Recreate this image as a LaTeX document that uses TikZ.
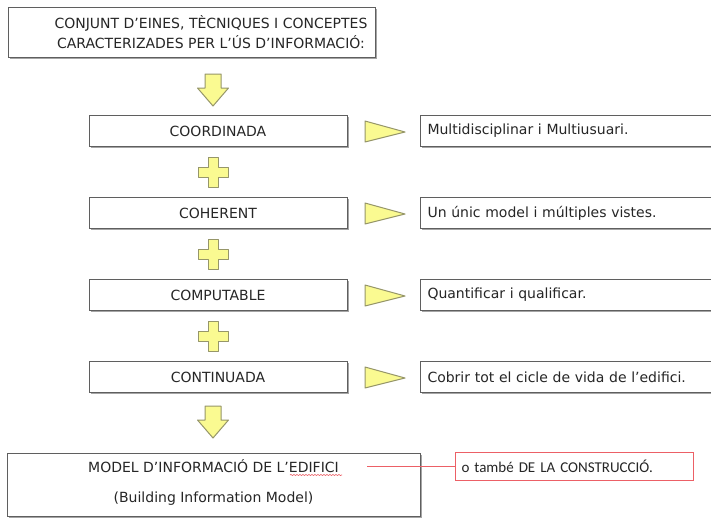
\documentclass[tikz,border=0pt]{standalone}
\usepackage{fontspec}
\setmainfont{DejaVu Sans}
\newfontfamily\notefont{Carlito}
\usetikzlibrary{shadows,decorations.pathmorphing}

\definecolor{boxline}{RGB}{95,95,95}
\definecolor{boxshade}{RGB}{165,165,165}
\definecolor{shapefill}{RGB}{250,250,145}
\definecolor{shapeline}{RGB}{150,150,105}
\definecolor{notered}{RGB}{236,96,102}

\tikzset{
  box/.style={draw=boxline, line width=1pt, fill=white, rectangle, inner sep=0pt,
    drop shadow={shadow xshift=1.5pt, shadow yshift=-1.5pt, fill=boxshade, opacity=1}},
  stagebox/.style={box, minimum width=258pt, minimum height=31.5pt},
  infobox/.style={box, anchor=west, minimum height=31.5pt, text width=286pt, inner xsep=7pt, align=left},
  yellowshape/.style={fill=shapefill, draw=shapeline, line width=1pt, line join=round},
  txt/.style={font=\fontsize{14}{20}\selectfont, text=black!85}
}

\begin{document}
\begin{tikzpicture}[x=1pt, y=-1pt]
        \useasboundingbox (0,0) rectangle (711,517);
        \fill[white] (0,0) rectangle (711,517);
        \clip (0,0) rectangle (711,517);
        % top box
        \node[box, minimum width=367pt, minimum height=50pt] (top) at (191.5,32) {};
        \node[txt, align=center] (toptext) at (211,32) {CONJUNT D'EINES, TÈCNIQUES I CONCEPTES\\CARACTERIZADES PER L'ÚS D'INFORMACIÓ:};
        % four stages
        \node[stagebox, txt] (coord) at (218,131) {COORDINADA};
        \node[stagebox, txt] (coher) at (218,213) {COHERENT};
        \node[stagebox, txt] (comput) at (218,295) {COMPUTABLE};
        \node[stagebox, txt] (contin) at (218,377) {CONTINUADA};
        \node[infobox, txt] (multi) at (420,131) {Multidisciplinar i Multiusuari.};
        \node[infobox, txt] (vistes) at (420,213) {Un únic model i múltiples vistes.};
        \node[infobox, txt] (quant) at (420,295) {Quantificar i qualificar.};
        \node[infobox, txt] (cicle) at (420,377) {Cobrir tot el cicle de vida de l'edifici.};
        % bottom box
        \node[box, minimum width=413pt, minimum height=63pt] (bim) at (213.5,484.5) {};
        \node[txt] (bimname) at (213.5,466) {MODEL D'INFORMACIÓ DE L'EDIFICI};
        \node[txt] (bimsub) at (213.5,499) {(Building Information Model)};
        \draw[notered, line width=0.6pt, decorate, decoration={snake, amplitude=0.6pt, segment length=3pt}] (290,475) -- (342,475);
        \node[draw=notered, line width=1pt, fill=white, minimum width=238pt, minimum height=28pt, inner sep=0pt, anchor=west, text width=226pt, align=left, font=\notefont\fontsize{15}{18}\selectfont, text=black!85] (note) at (455,466) {o també DE LA CONSTRUCCIÓ.};
        \coordinate (notestart) at (367,466);
        \draw[notered, line width=1pt] (notestart) -- (note.west);
        % yellow arrows
        \foreach \cx/\cy in {213/74, 213/406}
            \draw[yellowshape] (\cx-8,\cy) -- (\cx+8,\cy) -- (\cx+8,\cy+14) -- (\cx+15.5,\cy+14) -- (\cx,\cy+32) -- (\cx-15.5,\cy+14) -- (\cx-8,\cy+14) -- cycle;
        \foreach \cy in {172, 254, 336}
            \draw[yellowshape] (208,\cy-15) -- (218,\cy-15) -- (218,\cy-5) -- (228,\cy-5) -- (228,\cy+5) -- (218,\cy+5) -- (218,\cy+15) -- (208,\cy+15) -- (208,\cy+5) -- (198,\cy+5) -- (198,\cy-5) -- (208,\cy-5) -- cycle;
        \foreach \cy in {131, 213, 295, 377}
            \draw[yellowshape] (365,\cy-10) -- (405,\cy+1) -- (365,\cy+11) -- cycle;
    \end{tikzpicture}
\end{document}
